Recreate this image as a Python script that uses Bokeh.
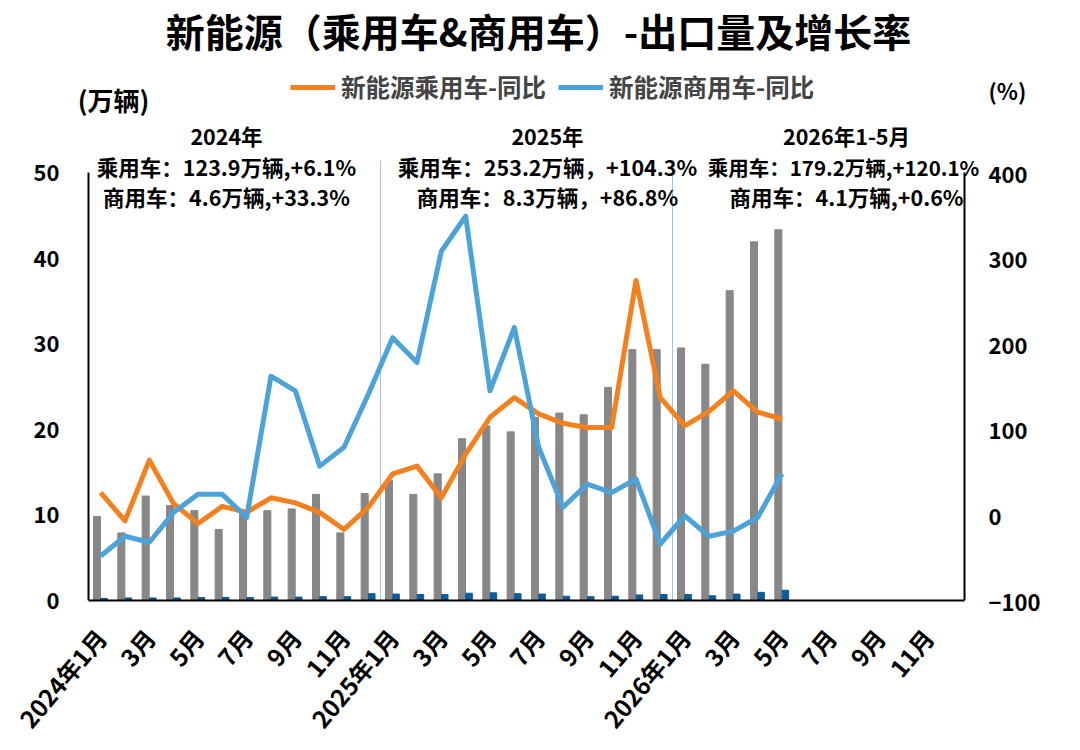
import math
from bokeh.plotting import figure
from bokeh.models import Range1d, LinearAxis, Label, Legend, LegendItem, FixedTicker
from bokeh.embed import file_html
from bokeh.resources import INLINE

# ---- data ----
months = (["2024年1月"] + [f"{m}月" for m in range(2, 13)] +
          ["2025年1月"] + [f"{m}月" for m in range(2, 13)] +
          ["2026年1月"] + [f"{m}月" for m in range(2, 13)])
pv_export = [9.8, 7.9, 12.2, 11.1, 10.5, 8.3, 10.1, 10.5, 10.7, 12.4, 7.9, 12.5,
             14.0, 12.4, 14.8, 18.9, 20.4, 19.7, 21.4, 21.9, 21.7, 24.9, 29.3, 29.3,
             29.5, 27.6, 36.2, 41.9, 43.3]
cv_export = [0.25, 0.3, 0.3, 0.3, 0.35, 0.35, 0.35, 0.4, 0.4, 0.45, 0.45, 0.8,
             0.75, 0.7, 0.7, 0.85, 0.9, 0.8, 0.75, 0.5, 0.45, 0.5, 0.65, 0.7,
             0.7, 0.55, 0.75, 0.95, 1.2]
pv_yoy = [26, -7, 64, 13, -10, 10, 3, 20, 14, 3, -17, 9,
          48, 57, 20, 71, 114, 137, 118, 107, 102, 102, 274, 137,
          104, 121, 145, 120, 112]
cv_yoy = [-48, -25, -32, 3, 24, 24, -3, 162, 145, 57, 79, 141,
          207, 178, 308, 349, 145, 219, 79, 9, 36, 26, 42, -34,
          -1, -25, -19, -3, 48]
left_ticks = [0, 10, 20, 30, 40, 50]
right_ticks = [-100, 0, 100, 200, 300, 400]
left_unit = "(万辆)"
right_unit = "(%)"
summary_titles = ["2024年", "2025年", "2026年1-5月"]
summary_pv = ["乘用车：123.9万辆,+6.1%", "乘用车：253.2万辆，+104.3%", "乘用车：179.2万辆,+120.1%"]
summary_cv = ["商用车：4.6万辆,+33.3%", "商用车：8.3万辆，+86.8%", "商用车：4.1万辆,+0.6%"]

FONT = "Noto Sans CJK SC"
W, H = 1080, 750
FB = 600                    # frame bottom (canvas px)
F_LEFT, F_RIGHT = 62, 984   # frame edges (canvas px)
AX_L, AX_R = 88, 964        # where the drawn axis lines sit (canvas px)
n = len(months)
U = (AX_R - AX_L) / n       # px per month
PX = 8.56                   # px per unit on left axis
YTOP = FB / PX

xs = list(range(1, n + 1))
xd = xs[:len(pv_export)]

x0 = 0.5 - (AX_L - F_LEFT) / U
x1 = n + 0.5 + (F_RIGHT - AX_R) / U

p = figure(width=W, height=H, x_range=Range1d(x0, x1), y_range=Range1d(0, YTOP),
           output_backend="svg", toolbar_location=None,
           min_border_left=F_LEFT, min_border_right=W - F_RIGHT, min_border_top=0,
           min_border_bottom=H - FB)
p.extra_y_ranges = {"pct": Range1d(-100, -100 + YTOP * 10)}
p.outline_line_color = None
p.xgrid.visible = False
p.ygrid.visible = False
p.background_fill_color = "white"
p.border_fill_color = "white"

# year separators
sep_x = [12.5, 24.5]
p.segment(x0=sep_x, x1=sep_x, y0=[0, 0], y1=[51.4, 51.4], line_color="#9dc3e6", line_width=1)

# value-axis lines (left at first slot edge, right at last slot edge)
p.segment(x0=[0.5, n + 0.5], x1=[0.5, n + 0.5], y0=[0, 0], y1=[max(left_ticks)] * 2,
          line_color="black", line_width=2)

# bars
p.vbar(x=[x - 0.15 for x in xd], top=pv_export, width=0.29, bottom=0, color="#878787")
p.vbar(x=[x + 0.14 for x in xd], top=cv_export, width=0.27, bottom=0, color="#0f5c9a")

# lines
r_pv = p.line(xd, pv_yoy, y_range_name="pct", line_color="#f5801e", line_width=5, line_join="round")
r_cv = p.line(xd, cv_yoy, y_range_name="pct", line_color="#4ba3d9", line_width=5, line_join="round")

def style_axis(ax):
    ax.axis_line_color = "black"
    ax.axis_line_width = 2
    ax.major_tick_line_color = None
    ax.minor_tick_line_color = None
    ax.major_tick_out = 0
    ax.major_tick_in = 0
    ax.minor_tick_out = 0
    ax.minor_tick_in = 0
    ax.major_label_text_font = FONT
    ax.major_label_text_font_style = "bold"
    ax.major_label_text_font_size = "22px"
    ax.major_label_text_color = "black"

ly = p.yaxis[0]
style_axis(ly)
ly.axis_line_color = None
ly.ticker = FixedTicker(ticks=left_ticks)
ly.major_label_standoff = 3

unit_pos = -100 + (FB - 89) / PX * 10   # where the "(%)" caption sits on the right scale
ra = LinearAxis(y_range_name="pct", ticker=FixedTicker(ticks=right_ticks + [unit_pos]))
style_axis(ra)
ra.axis_line_color = None
ra.major_label_standoff = 4
ra.major_label_overrides = {unit_pos: right_unit}
p.add_layout(ra, "right")

bx = p.xaxis[0]
style_axis(bx)
odd = [x for x in xs if x % 2 == 1]
bx.ticker = FixedTicker(ticks=odd)
bx.bounds = (0.5, n + 0.5)
bx.major_label_overrides = {x: months[x - 1] for x in odd}
bx.major_label_orientation = 0.87
bx.major_label_standoff = 32
bx.major_label_text_font_size = "24px"

# legend
legend = Legend(items=[LegendItem(label="新能源乘用车-同比", renderers=[r_pv]),
                       LegendItem(label="新能源商用车-同比", renderers=[r_cv])],
                orientation="horizontal", location=(290 - F_LEFT, 496), margin=0, padding=0,
                label_text_font=FONT, label_text_font_style="bold", label_text_font_size="24.5px",
                glyph_width=45, spacing=12, label_standoff=6,
                border_line_color=None, background_fill_alpha=0)
p.add_layout(legend, "center")

def lab(text, x, y_top, size, align="center"):
    p.add_layout(Label(x=x - F_LEFT, y=FB - y_top, x_units="screen", y_units="screen", text=text,
                       text_font=FONT, text_font_style="bold", text_font_size=size,
                       text_align=align, text_baseline="middle", text_color="black"))

lab("新能源（乘用车&商用车）-出口量及增长率", 538, 29, "39px")
lab(left_unit, 113, 99, "26px")
cx = [226, 547, 846]
for i in range(3):
    lab(summary_titles[i], cx[i], 135, "21.5px")
    lab(summary_pv[i], 843 if i == 2 else cx[i], 166, "20.5px" if i == 2 else "21.5px")
    lab(summary_cv[i], cx[i], 196, "21.5px")

open("out.html", "w").write(file_html(p, INLINE))
